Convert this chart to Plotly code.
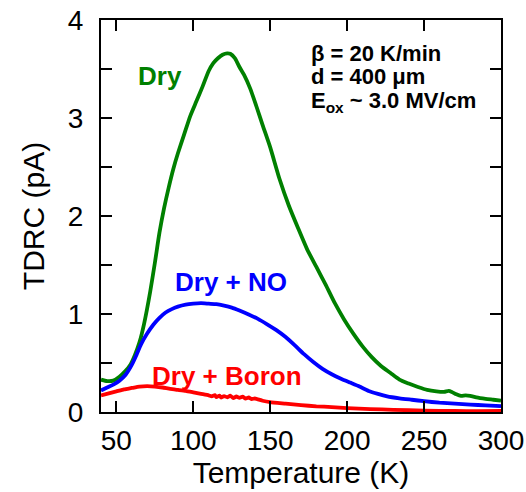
import plotly.graph_objects as go

# ---- data ----
dry_T = [40, 44, 48, 52, 56, 59, 62, 65, 68, 72, 75, 78, 81, 84, 87, 90, 94, 98, 102, 106,
         110, 113, 116, 119, 122, 124, 127, 130, 133, 137, 141, 145, 150, 156, 162, 168, 174,
         180, 186, 192, 198, 204, 210, 216, 222, 228, 234, 240, 246, 252, 258, 263, 266, 268,
         271, 274, 277, 280, 284, 290, 295, 300]
dry_I = [0.33, 0.315, 0.32, 0.36, 0.42, 0.48, 0.58, 0.71, 0.90, 1.23, 1.52, 1.83, 2.08, 2.29,
         2.48, 2.64, 2.83, 3.02, 3.17, 3.32, 3.48, 3.56, 3.61, 3.645, 3.66, 3.655, 3.61, 3.52,
         3.44, 3.30, 3.12, 2.93, 2.70, 2.38, 2.11, 1.88, 1.66, 1.48, 1.30, 1.11, 0.945, 0.80,
         0.67, 0.56, 0.47, 0.40, 0.33, 0.29, 0.255, 0.225, 0.21, 0.205, 0.215, 0.205, 0.18,
         0.165, 0.17, 0.165, 0.15, 0.135, 0.125, 0.115]

no_T = [40, 44, 48, 52, 56, 60, 63, 66, 70, 74, 78, 82, 86, 90, 95, 100, 105, 110, 115, 120,
        125, 130, 136, 142, 148, 154, 160, 166, 172, 178, 184, 190, 196, 202, 208, 214, 220,
        226, 234, 242, 250, 260, 270, 280, 290, 300]
no_I = [0.22, 0.25, 0.28, 0.32, 0.38, 0.48, 0.58, 0.69, 0.80, 0.89, 0.96, 1.015, 1.05, 1.075,
        1.095, 1.105, 1.11, 1.105, 1.10, 1.085, 1.065, 1.035, 0.995, 0.95, 0.895, 0.835, 0.765,
        0.68, 0.59, 0.51, 0.44, 0.385, 0.34, 0.30, 0.26, 0.215, 0.185, 0.16, 0.14, 0.125, 0.11,
        0.095, 0.085, 0.075, 0.068, 0.06]

boron_T = [40, 45, 50, 55, 60, 65, 70, 75, 80, 85, 90, 95, 100, 105, 110, 112, 114, 115, 117,
           118, 120, 122, 124, 126, 128, 130, 132, 134, 136, 138, 140, 145, 150, 160, 170, 180,
           190, 200, 215, 230, 250, 270, 285, 300]
boron_I = [0.17, 0.19, 0.21, 0.23, 0.245, 0.26, 0.265, 0.26, 0.25, 0.235, 0.225, 0.215, 0.20,
           0.185, 0.17, 0.16, 0.172, 0.152, 0.168, 0.148, 0.163, 0.15, 0.166, 0.142, 0.158, 0.145,
           0.157, 0.137, 0.148, 0.132, 0.138, 0.115, 0.10, 0.085, 0.07, 0.058, 0.05, 0.04, 0.03,
           0.022, 0.015, 0.01, 0.008, 0.01]

x_ticks = [50, 100, 150, 200, 250, 300]
y_ticks = [0, 0.5, 1, 1.5, 2, 2.5, 3, 3.5, 4]
y_ticktext = ["0", "", "1", "", "2", "", "3", "", "4"]

info_lines = ["<b>β = 20 K/min</b>", "<b>d = 400 μm</b>", "<b>E<sub>ox</sub> ~ 3.0 MV/cm</b>"]
info_y = [3.655, 3.42, 3.16]

GREEN = "#008000"
BLUE = "#0000ff"
RED = "#ff0000"
FONT = "Arial, Liberation Sans, sans-serif"

fig = go.Figure()
fig.add_trace(go.Scatter(x=dry_T, y=dry_I, mode="lines", name="Dry",
                         line=dict(color=GREEN, width=3.8, shape="spline", smoothing=0.6)))
fig.add_trace(go.Scatter(x=no_T, y=no_I, mode="lines", name="Dry + NO",
                         line=dict(color=BLUE, width=3.8, shape="spline", smoothing=0.6)))
fig.add_trace(go.Scatter(x=boron_T, y=boron_I, mode="lines", name="Dry + Boron",
                         line=dict(color=RED, width=3.8, shape="spline", smoothing=0.4)))

labels = [
    dict(x=78.5, y=3.43, text="<b>Dry</b>", color=GREEN),
    dict(x=124.5, y=1.33, text="<b>Dry + NO</b>", color=BLUE),
    dict(x=122, y=0.37, text="<b>Dry + Boron</b>", color=RED),
]
for lb in labels:
    fig.add_annotation(x=lb["x"], y=lb["y"], text=lb["text"], showarrow=False,
                       xanchor="center", yanchor="middle",
                       font=dict(family=FONT, size=26, color=lb["color"]))

for txt, yy in zip(info_lines, info_y):
    fig.add_annotation(x=175, y=yy, xanchor="left", yanchor="middle",
                       align="left", showarrow=False, text=txt,
                       font=dict(family=FONT, size=22, color="black"))

axis_common = dict(showline=True, linecolor="black", linewidth=2, mirror="ticks",
                   ticks="inside", ticklen=11, tickwidth=1.5, tickcolor="black",
                   showgrid=False, zeroline=False, automargin=False,
                   tickfont=dict(family=FONT, size=28, color="black"))

fig.update_layout(
    width=526, height=492,
    margin=dict(l=101, r=25, t=20, b=80),
    paper_bgcolor="white", plot_bgcolor="white",
    showlegend=False,
    xaxis=dict(range=[40, 300], tickvals=x_ticks, ticklabelstandoff=2,
               title=dict(text="Temperature (K)", font=dict(family=FONT, size=30, color="black"),
                          standoff=6),
               **axis_common),
    yaxis=dict(range=[0, 4], tickvals=y_ticks, ticktext=y_ticktext, ticklabelstandoff=10,
               title=dict(text="TDRC (pA)", font=dict(family=FONT, size=30, color="black"),
                          standoff=14),
               **axis_common),
)

fig.write_html("out.html")
